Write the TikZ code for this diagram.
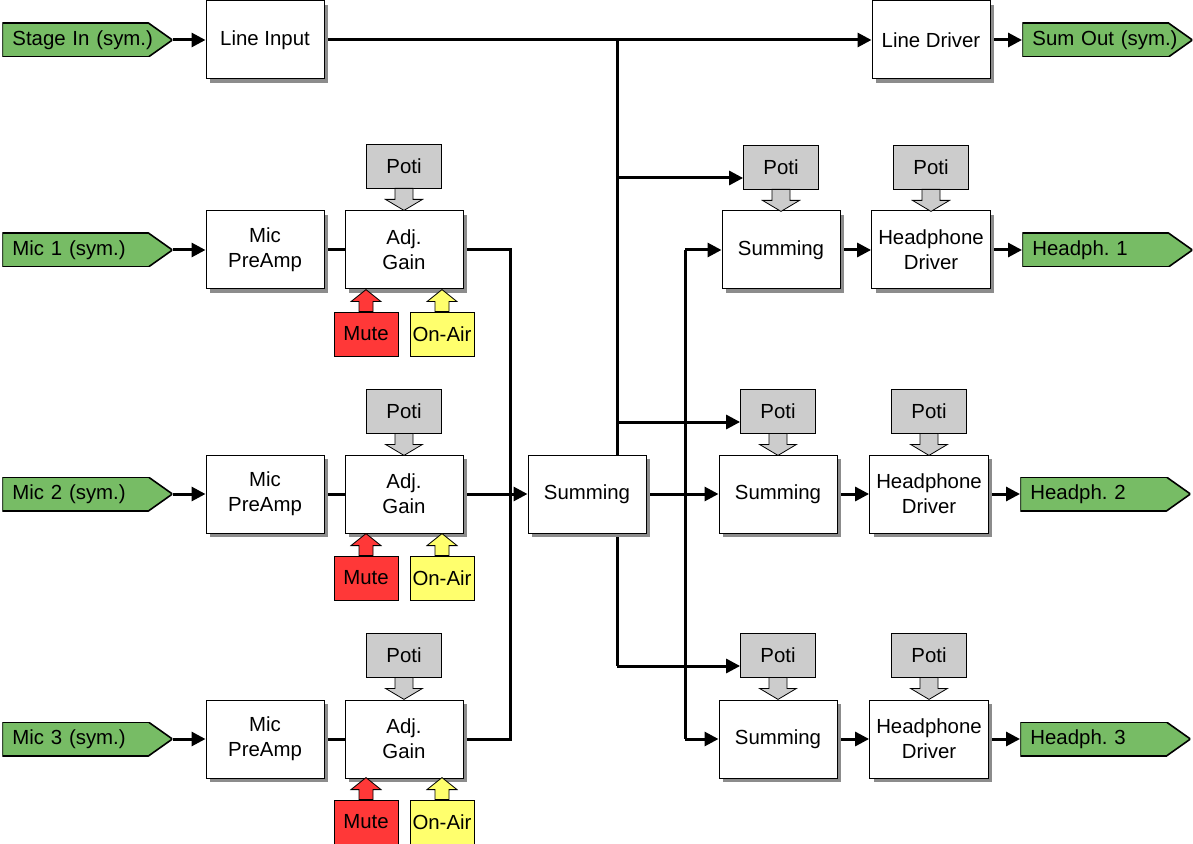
\documentclass[tikz,border=0pt]{standalone}
\usepackage{fontspec}
\setmainfont{Liberation Sans}
\usetikzlibrary{shadows,arrows.meta,backgrounds}

\definecolor{iogreen}{HTML}{77BC65}
\definecolor{mutered}{HTML}{FF3838}
\definecolor{airyellow}{HTML}{FFFF6D}
\definecolor{potigray}{HTML}{CCCCCC}

% little arrows under the poti boxes and above the mute/on-air keys
\newcommand{\potitip}[1]{\filldraw[line width=0.4pt, fill=potigray] (#1.south) ++(-9,0) -- ++(0,11) -- ++(-9.5,0) -- ++(18.5,11) -- ++(18.5,-11) -- ++(-9.5,0) -- ++(0,-11) -- cycle;}
\newcommand{\keytip}[2]{\filldraw[line width=0.4pt, fill=#2] (#1.north) ++(-7,0) -- ++(0,-10) -- ++(-8,0) -- ++(15,-12) -- ++(15,12) -- ++(-8,0) -- ++(0,10) -- cycle;}

\begin{document}
\begin{tikzpicture}[x=0.5pt, y=-0.5pt, font=\fontsize{10.2}{12.5}\selectfont\frenchspacing,
    block/.style={draw, line width=0.5pt, fill=white, minimum width=59pt, minimum height=39pt, align=center,
      drop shadow={shadow xshift=2pt, shadow yshift=-2pt, fill=black!45, opacity=1}},
    io/.style={minimum width=85pt, minimum height=17pt, text width=75pt, inner xsep=5pt, inner ysep=0pt,
      align=left, anchor=west,
      path picture={\filldraw[fill=iogreen, line width=0.8pt]
        (path picture bounding box.south west) -- (path picture bounding box.north west)
        -- ([xshift=-12pt]path picture bounding box.north east) -- (path picture bounding box.east)
        -- ([xshift=-12pt]path picture bounding box.south east) -- cycle;}},
    poti/.style={draw, line width=0.4pt, fill=potigray, minimum width=37.5pt, minimum height=22pt},
    key/.style={draw, line width=0.4pt, minimum width=32pt, minimum height=22pt, inner xsep=1pt},
    wire/.style={line width=1.5pt},
    arr/.style={line width=1.5pt, -{Triangle[length=7pt,width=7pt]}}]
    \useasboundingbox (0,0) rectangle (1193,844);

    % inputs and outputs
    \node[io] (stagein) at (2,40) {Stage In (sym.)};
    \node[io] (mic1) at (2,250) {Mic 1 (sym.)};
    \node[io] (mic2) at (2,494) {Mic 2 (sym.)};
    \node[io] (mic3) at (2,739) {Mic 3 (sym.)};
    \node[io] (sumout) at (1022,40) {Sum Out (sym.)};
    \node[io] (hout1) at (1022,250) {Headph. 1};
    \node[io] (hout2) at (1020,494) {Headph. 2};
    \node[io] (hout3) at (1020,739) {Headph. 3};

    % blocks
    \node[block] (linein) at (265,40) {Line Input};
    \node[block] (linedrv) at (931,40) {Line Driver};
    \node[block] (pre1) at (265,250) {Mic\\PreAmp};
    \node[block] (pre2) at (265,494) {Mic\\PreAmp};
    \node[block] (pre3) at (265,739) {Mic\\PreAmp};
    \node[block] (gain1) at (404,250) {Adj.\\Gain};
    \node[block] (gain2) at (404,494) {Adj.\\Gain};
    \node[block] (gain3) at (404,739) {Adj.\\Gain};
    \node[block] (sum) at (587,494) {Summing};
    \node[block] (summ1) at (781,250) {Summing};
    \node[block] (summ2) at (778,494) {Summing};
    \node[block] (summ3) at (778,739) {Summing};
    \node[block] (hp1) at (931,250) {Headphone\\Driver};
    \node[block] (hp2) at (929,494) {Headphone\\Driver};
    \node[block] (hp3) at (929,739) {Headphone\\Driver};

    % potis
    \node[poti] (potg1) at (404,166) {Poti};
    \node[poti] (potg2) at (404,411) {Poti};
    \node[poti] (potg3) at (404,655) {Poti};
    \node[poti] (pots1) at (781,167) {Poti};
    \node[poti] (pots2) at (778,411) {Poti};
    \node[poti] (pots3) at (778,655) {Poti};
    \node[poti] (poth1) at (931,167) {Poti};
    \node[poti] (poth2) at (929,411) {Poti};
    \node[poti] (poth3) at (929,655) {Poti};
    \potitip{potg1} \potitip{potg2} \potitip{potg3}
    \potitip{pots1} \potitip{pots2} \potitip{pots3}
    \potitip{poth1} \potitip{poth2} \potitip{poth3}

    % mute and on-air keys
    \node[key, fill=mutered] (mute1) at (366,334) {Mute};
    \node[key, fill=mutered] (mute2) at (366,578) {Mute};
    \node[key, fill=mutered] (mute3) at (366,822) {Mute};
    \node[key, fill=airyellow] (air1) at (442,334) {On-Air};
    \node[key, fill=airyellow] (air2) at (442,578) {On-Air};
    \node[key, fill=airyellow] (air3) at (442,822) {On-Air};
    \keytip{mute1}{mutered} \keytip{mute2}{mutered} \keytip{mute3}{mutered}
    \keytip{air1}{airyellow} \keytip{air2}{airyellow} \keytip{air3}{airyellow}

    % connections
    \coordinate (tap) at (617,40);
    \coordinate (t1) at (617,178);
    \coordinate (t2) at (617,422);
    \coordinate (t3) at (617,666);
    \coordinate (bus1) at (510,250);
    \coordinate (bus3) at (510,739);
    \coordinate (hb1) at (685,250);
    \coordinate (hb3) at (685,739);
    \begin{scope}[on background layer]
        \path[draw,arr] (stagein.east) -- (linein);
        \path[draw,arr] (linein) -- (linedrv);
        \path[draw,arr] (linedrv) -- (sumout.west);
        \path[draw,wire] (tap) -- (t3);
        \path[draw,arr] (t1) -- (t1 -| pots1.west);
        \path[draw,arr] (t2) -- (t2 -| pots2.west);
        \path[draw,arr] (t3) -- (t3 -| pots3.west);
        \path[draw,arr] (mic1.east) -- (pre1);
        \path[draw,arr] (mic2.east) -- (pre2);
        \path[draw,arr] (mic3.east) -- (pre3);
        \path[draw,wire] (pre1) -- (gain1);
        \path[draw,wire] (pre2) -- (gain2);
        \path[draw,wire] (pre3) -- (gain3);
        \path[draw,wire] (gain1.east) -- (bus1) -- (bus3) -- (gain3.east);
        \path[draw,arr] (gain2) -- (sum);
        \path[draw,arr] (sum) -- (summ2);
        \path[draw,wire] (hb1) -- (hb3);
        \path[draw,arr] (hb1) -- (summ1.west);
        \path[draw,arr] (hb3) -- (summ3.west);
        \path[draw,arr] (summ1) -- (hp1);
        \path[draw,arr] (summ2) -- (hp2);
        \path[draw,arr] (summ3) -- (hp3);
        \path[draw,arr] (hp1) -- (hout1.west);
        \path[draw,arr] (hp2) -- (hout2.west);
        \path[draw,arr] (hp3) -- (hout3.west);
    \end{scope}
\end{tikzpicture}
\end{document}
